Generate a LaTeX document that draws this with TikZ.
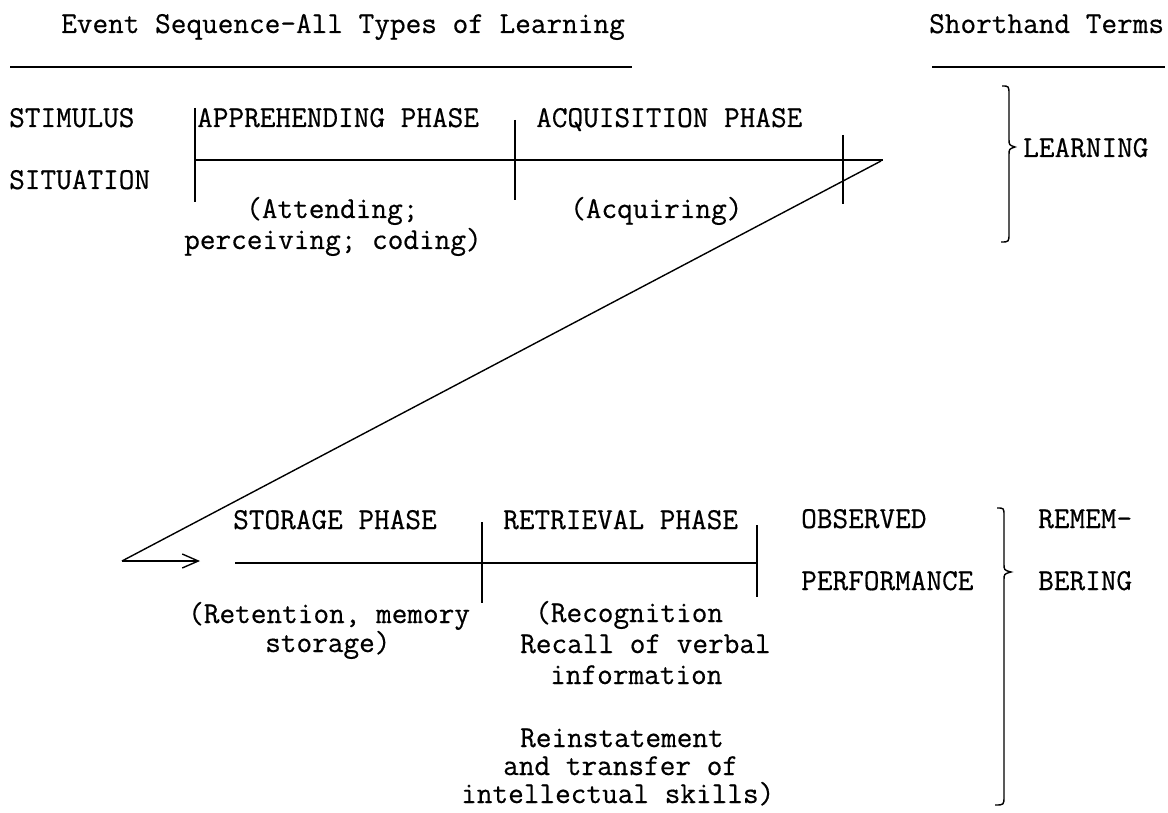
\documentclass[tikz,border=0pt]{standalone}
\usepackage{fontspec}
\newfontfamily\twfont[FakeBold=0.5]{Latin Modern Mono}
\usetikzlibrary{arrows.meta}
\tikzset{
  txt/.style={anchor=base west, inner sep=0pt, text height=0.6em, text depth=0.1em,
    font=\twfont\fontsize{30.4}{34}\selectfont},
  ln/.style={line width=1.4pt},
  rule/.style={line width=1.6pt}
}
\begin{document}
\begin{tikzpicture}[x=1pt,y=-1pt]
\useasboundingbox (0,0) rectangle (1168,813);
% headings
\node[txt] (title) at (61,33) {Event Sequence-All Types of Learning};
\node[txt] (short) at (929,33) {Shorthand Terms};
\draw[rule] (10,67) -- (632,67);
\draw[rule] (932,67) -- (1165,67);
% upper row
\node[txt] (stim) at (9,127) {STIMULUS};
\node[txt] (sit) at (9,189) {SITUATION};
\node[txt] (app) at (197,127) {APPREHENDING PHASE};
\node[txt] (acq) at (536,127) {ACQUISITION PHASE};
\node[txt] (att) at (246,218) {(Attending;};
\node[txt] (perc) at (184,249) {perceiving; coding)};
\node[txt] (acqg) at (570,218) {(Acquiring)};
\node[txt] (learn) at (1023,157) {LEARNING};
\coordinate (h1s) at (195,160);
\coordinate (h1e) at (883,160);
\draw[ln] (h1s) -- (h1e);
\draw[ln] (195,108) -- (195,202);
\draw[ln] (515,120) -- (515,200);
\draw[ln] (843,135) -- (843,204);
% connector
\coordinate (ds) at (881,161);
\coordinate (dc) at (122,561);
\coordinate (at) at (200,561);
\draw[ln] (ds) -- (dc);
\draw[ln,-{Straight Barb[length=16pt,width=14pt,line width=1.4pt]}] (dc) -- (at);
% lower row
\node[txt] (stor) at (233,529) {STORAGE PHASE};
\node[txt] (retr) at (503,529) {RETRIEVAL PHASE};
\node[txt] (obs) at (801,528) {OBSERVED};
\node[txt] (perf) at (801,590) {PERFORMANCE};
\node[txt] (rem) at (1038,528) {REMEM-};
\node[txt] (ber) at (1038,590) {BERING};
\draw[ln] (235,563) -- (757,563);
\draw[ln] (482,522) -- (482,603);
\draw[ln] (757,525) -- (757,597);
\node[txt] (ret1) at (188,623) {(Retention, memory};
\node[txt] (ret2) at (265,652) {storage)};
\node[txt] (rec1) at (535,622) {(Recognition};
\node[txt] (rec2) at (520,653) {Recall of verbal};
\node[txt] (rec3) at (550,684) {information};
\node[txt] (rei1) at (520,747) {Reinstatement};
\node[txt] (rei2) at (503,775) {and transfer of};
\node[txt] (rei3) at (461,803) {intellectual skills)};
% braces
\draw[ln] (1002,86) .. controls (1009,86) .. (1009,95) -- (1009,139)
  .. controls (1009,145) .. (1015,147) .. controls (1009,149) .. (1009,155)
  -- (1009,233) .. controls (1009,242) .. (1001,242);
\draw[ln] (997,508) .. controls (1004,508) .. (1004,516) -- (1004,564)
  .. controls (1004,570) .. (1011,572) .. controls (1004,574) .. (1004,580)
  -- (1004,796) .. controls (1004,805) .. (995,805);
\end{tikzpicture}
\end{document}
